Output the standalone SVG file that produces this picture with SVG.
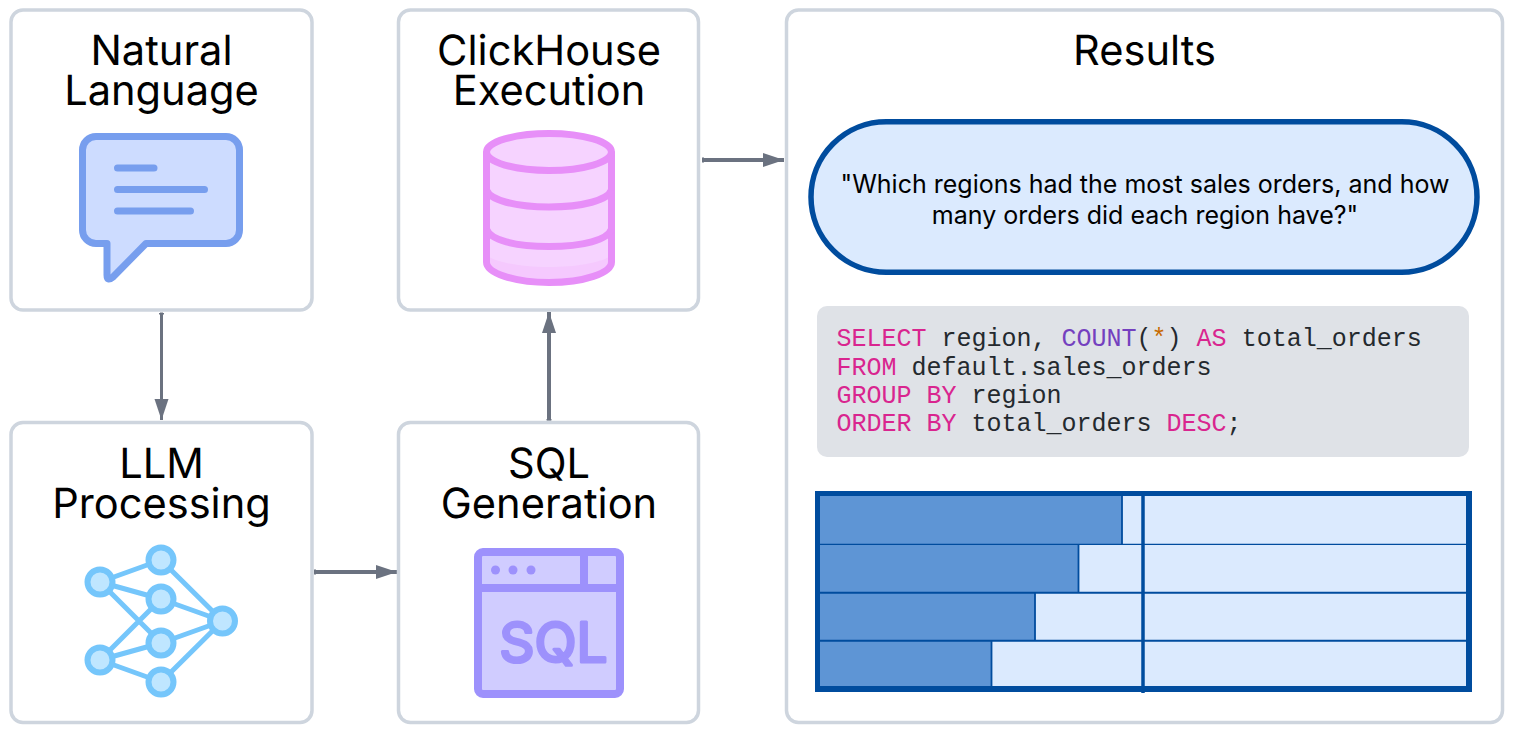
<svg xmlns="http://www.w3.org/2000/svg" width="1518" height="735" viewBox="0 0 1518 735">
<style>
.box{fill:#fff;stroke:#ced5de;stroke-width:3.5}
.t{font-family:Inter,"Liberation Sans",sans-serif;font-size:41.6px;fill:#000;text-anchor:middle;text-rendering:geometricPrecision}
.q{font-family:Inter,"Liberation Sans",sans-serif;font-size:25px;fill:#000;text-anchor:middle}
.c{font-family:"Liberation Mono",monospace;font-size:25px;fill:#24292e;white-space:pre}
.k{fill:#d9258f}.f{fill:#7440bf}.o{fill:#c76a00}
.a{stroke:#6b7280;fill:none}
</style>
<defs>
<marker id="h" markerUnits="userSpaceOnUse" markerWidth="22" markerHeight="16" refX="21" refY="8" orient="auto"><path d="M0 1L21 8L0 15Z" fill="#6b7280"/></marker>
<marker id="s" markerUnits="userSpaceOnUse" markerWidth="2" markerHeight="6" refX="0" refY="3" orient="auto"><rect y="0.500" width="2" height="5" fill="#6b7280"/></marker>
</defs>
<rect width="1518" height="735" fill="#fff"/>
<g id="connectors">
<path class="a" stroke-width="4" marker-start="url(#s)" marker-end="url(#h)" d="M702 160H784"/>
<path class="a" stroke-width="3" marker-start="url(#s)" marker-end="url(#h)" d="M161.500 312.500V420"/>
<path class="a" stroke-width="4" marker-start="url(#s)" marker-end="url(#h)" d="M549 420.500V312"/>
<path class="a" stroke-width="4" marker-start="url(#s)" marker-end="url(#h)" d="M314 572H397"/>
</g>
<g id="natural-language">
<rect class="box" x="11" y="10" width="301" height="300" rx="12"/>
<text class="t" x="161.500" y="65.300">Natural</text><text class="t" x="161.500" y="105.300">Language</text>
<path d="M96 136.500H226A13.500 13.500 0 0 1 239.500 150V230A13.500 13.500 0 0 1 226 243.500H146L113 277Q107 282 107 275V243.500H96A13.500 13.500 0 0 1 82.500 230V150A13.500 13.500 0 0 1 96 136.500Z" fill="#cddcff" stroke="#779eee" stroke-width="7" stroke-linejoin="round"/>
<path d="M117.500 168H154M117.500 189.500H204.500M117.500 211H190.500" stroke="#779eee" stroke-width="7" stroke-linecap="round" fill="none"/>
</g>
<g id="clickhouse-execution">
<rect class="box" x="398.500" y="10" width="300" height="300" rx="12"/>
<text class="t" x="549" y="65.300">ClickHouse</text><text class="t" x="549" y="105.300">Execution</text>
<path d="M486.500 151.500V262C486.500 273 514 282.500 549 282.500S611.500 273 611.500 262V151.500Z" fill="#f6d3ff"/>
<path d="M489 257C500 263 522 267 549 267S598 263 609 257V262C609 273 584 280 549 280S489 273 489 262Z" fill="#f5c9fe"/>
<path d="M486.500 151.500V262C486.500 273 514 282.500 549 282.500S611.500 273 611.500 262V151.500" fill="none" stroke="#e78ff8" stroke-width="7"/>
<ellipse cx="549" cy="152" rx="62.500" ry="18.500" fill="#f6d3ff" stroke="#e78ff8" stroke-width="7"/>
<path d="M486.500 190C490 200 515 207 549 207S608 200 611.500 190M486.500 229C490 240 515 246.500 549 246.500S608 240 611.500 229" fill="none" stroke="#e78ff8" stroke-width="7"/>
</g>
<g id="llm-processing">
<rect class="box" x="11" y="422.500" width="301" height="300" rx="12"/>
<text class="t" x="161.500" y="477.500">LLM</text><text class="t" x="161.500" y="518">Processing</text>
<path d="M100 582L161 560L222.500 621L161 682L100 660L161 643L222.500 621L161 599L100 582L161 643M100 660L161 599" fill="none" stroke="#75c6fb" stroke-width="5" stroke-linejoin="round"/>
<g fill="#bfe6ff" stroke="#75c6fb" stroke-width="6">
<circle cx="100" cy="582" r="12.500"/><circle cx="100" cy="660" r="12.500"/><circle cx="161" cy="560" r="12.500"/><circle cx="161" cy="599" r="12.500"/><circle cx="161" cy="643" r="12.500"/><circle cx="161" cy="682" r="12.500"/><circle cx="222.500" cy="621" r="12.500"/>
</g>
</g>
<g id="sql-generation">
<rect class="box" x="398.500" y="422.500" width="300" height="300" rx="12"/>
<text class="t" x="549" y="477.500">SQL</text><text class="t" x="549" y="518">Generation</text>
<rect x="478" y="552" width="142" height="142" rx="5" fill="#d0ccff" stroke="#9d91fc" stroke-width="8"/>
<path d="M478 588H620M584 552V588" stroke="#9d91fc" stroke-width="8" fill="none"/>
<g fill="#9d91fc"><circle cx="495.500" cy="570" r="4.500"/><circle cx="513" cy="570" r="4.500"/><circle cx="531" cy="570" r="4.500"/></g>
<text x="553.500" y="661.500" font-family="Inter,'Liberation Sans',sans-serif" font-size="55" font-weight="400" text-anchor="middle" fill="#9d91fc" stroke="#9d91fc" stroke-width="3" stroke-linejoin="round">SQL</text>
</g>
<g id="results">
<rect class="box" x="786.500" y="10" width="716" height="712.500" rx="12"/>
<text class="t" x="1144.500" y="65.300">Results</text>
<rect x="811" y="121.700" width="666" height="150.500" rx="75.250" fill="#dbeafe" stroke="#004c9e" stroke-width="5.500"/>
<text class="q" x="1145" y="193">"Which regions had the most sales orders, and how</text>
<text class="q" x="1145" y="224">many orders did each region have?"</text>
<rect x="817" y="306" width="652" height="151" rx="10" fill="#dfe2e7"/>
<text class="c" x="836.500" y="346"><tspan class="k">SELECT</tspan> region, <tspan class="f">COUNT</tspan>(<tspan class="o">*</tspan>) <tspan class="k">AS</tspan> total_orders</text>
<text class="c" x="836.500" y="374.500"><tspan class="k">FROM</tspan> default.sales_orders</text>
<text class="c" x="836.500" y="403"><tspan class="k">GROUP BY</tspan> region</text>
<text class="c" x="836.500" y="431"><tspan class="k">ORDER BY</tspan> total_orders <tspan class="k">DESC</tspan>;</text>
<rect x="817.500" y="494" width="652" height="195" fill="#dbeafe"/>
<g fill="#5e95d5"><rect x="820" y="496" width="302" height="48"/><rect x="820" y="545" width="258" height="47"/><rect x="820" y="593" width="215" height="47"/><rect x="820" y="641" width="171" height="45"/></g>
<path d="M1122 496V544M1078.500 545V592M1035 593V640M991.500 641V686" stroke="#004c9e" stroke-width="1.800" fill="none"/>
<path d="M820 544.300H1467" stroke="#004c9e" stroke-width="1.300"/><path d="M820 592.700H1467M820 640.700H1467" stroke="#004c9e" stroke-width="2"/>
<path d="M1143 496V693" stroke="#004c9e" stroke-width="3.500"/>
<path d="M815 491H1472V692H815ZM820 496V686H1466V496Z" fill="#004c9e" fill-rule="evenodd"/>
</g>
</svg>
